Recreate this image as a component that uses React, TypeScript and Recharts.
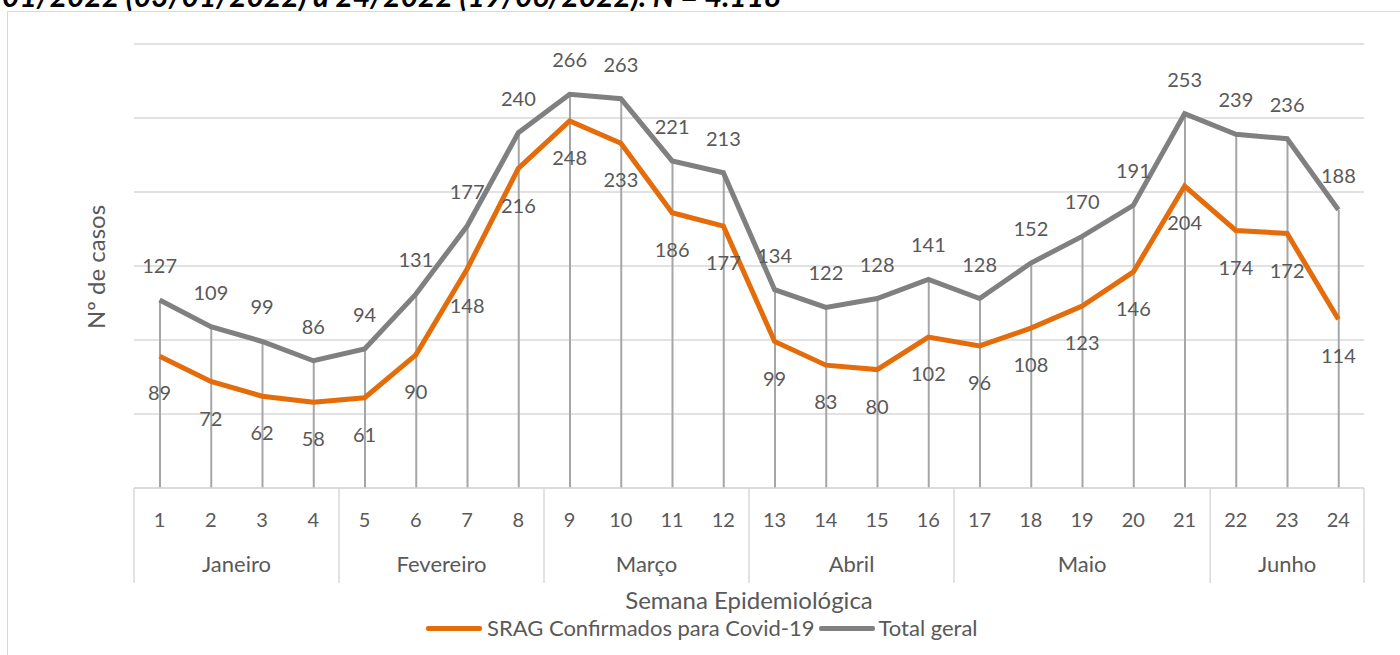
import React from 'react';
import { ComposedChart, Line, Bar, XAxis, YAxis, CartesianGrid, LabelList } from 'recharts';

const weeks = [1, 2, 3, 4, 5, 6, 7, 8, 9, 10, 11, 12, 13, 14, 15, 16, 17, 18, 19, 20, 21, 22, 23, 24];
const confirmados = [89, 72, 62, 58, 61, 90, 148, 216, 248, 233, 186, 177, 99, 83, 80, 102, 96, 108, 123, 146, 204, 174, 172, 114];
const totalGeral = [127, 109, 99, 86, 94, 131, 177, 240, 266, 263, 221, 213, 134, 122, 128, 141, 128, 152, 170, 191, 253, 239, 236, 188];
const months = ['Janeiro', 'Fevereiro', 'Março', 'Abril', 'Maio', 'Junho'];
const monthWeeks = [4, 4, 4, 4, 5, 3];
const yTicks = [0, 50, 100, 150, 200, 250, 300];

const FONT = 'Lato, "Open Sans", sans-serif';
const TEXT = '#595959';
const ORANGE = '#E46C0A';
const GRAY = '#808080';
const GRID = '#D9D9D9';

const data = weeks.map((w, i) => ({ week: w, confirmados: confirmados[i], total: totalGeral[i] }));

// first week of each month -> [month index, number of weeks]
const groupStart: Record<number, [number, number]> = {};
let acc = 0;
monthWeeks.forEach((n, m) => {
  groupStart[weeks[acc]] = [m, n];
  acc += n;
});
const lastWeek = weeks[weeks.length - 1];

const WeekTick = (props: any) => {
  const { x, y, payload } = props;
  const half = payload.offset || 25.6;
  const band = half * 2;
  const start = groupStart[payload.value];
  return (
    <g>
      <text x={x} y={y + 31} textAnchor="middle" dominantBaseline="central" fill={TEXT} fontSize={20} fontFamily={FONT}>
        {payload.value}
      </text>
      {start && (
        <>
          <line x1={x - half} x2={x - half} y1={y} y2={y + 95} stroke={GRID} strokeWidth={1.5} />
          <text
            x={x + ((start[1] - 1) / 2) * band}
            y={y + 75}
            textAnchor="middle"
            dominantBaseline="central"
            fill={TEXT}
            fontSize={22}
            fontFamily={FONT}
          >
            {months[start[0]]}
          </text>
        </>
      )}
      {payload.value === lastWeek && (
        <line x1={x + half} x2={x + half} y1={y} y2={y + 95} stroke={GRID} strokeWidth={1.5} />
      )}
    </g>
  );
};

const App = () => {
  return (
    <div style={{ position: 'absolute', left: 0, top: 0, width: 1400, height: 655, overflow: 'hidden', background: '#fff' }}>
      <div
        style={{
          position: 'absolute',
          left: 2,
          top: -20,
          fontFamily: FONT,
          fontWeight: 700,
          fontStyle: 'italic',
          fontSize: 30,
          lineHeight: '30px',
          whiteSpace: 'nowrap',
          color: '#000',
        }}
      >
        01/2022 (03/01/2022) a 24/2022 (19/06/2022). N = 4.118
      </div>
      <div style={{ position: 'absolute', left: 7, top: 11, width: 1420, height: 700, border: `1.5px solid ${GRID}` }} />
      <div style={{ position: 'absolute', left: 0, top: 0 }}>
        <ComposedChart width={1400} height={655} data={data} margin={{ top: 44, right: 36, bottom: 72, left: 134 }}>
          <CartesianGrid vertical={false} stroke={GRID} strokeWidth={1.5} />
          <XAxis
            dataKey="week"
            height={95}
            tickLine={false}
            tickSize={0}
            tickMargin={0}
            axisLine={{ stroke: GRID, strokeWidth: 1.5 }}
            tick={<WeekTick />}
            interval={0}
          />
          <YAxis hide domain={[0, 300]} ticks={yTicks} />
          <Bar dataKey="total" barSize={2} fill="#A6A6A6" isAnimationActive={false} />
          <Line type="linear" dataKey="confirmados" stroke={ORANGE} strokeWidth={5} dot={false} isAnimationActive={false}>
            <LabelList dataKey="confirmados" position="bottom" offset={30} fill={TEXT} fontSize={20} fontFamily={FONT} />
          </Line>
          <Line type="linear" dataKey="total" stroke={GRAY} strokeWidth={5} dot={false} isAnimationActive={false}>
            <LabelList dataKey="total" position="top" offset={27} fill={TEXT} fontSize={20} fontFamily={FONT} />
          </Line>
        </ComposedChart>
      </div>
      <div
        style={{
          position: 'absolute',
          left: 95,
          top: 267,
          transform: 'translate(-50%, -50%) rotate(-90deg)',
          fontFamily: FONT,
          fontSize: 24,
          color: TEXT,
          whiteSpace: 'nowrap',
        }}
      >
        Nº de casos
      </div>
      <div
        style={{
          position: 'absolute',
          left: 749,
          top: 600,
          transform: 'translate(-50%, -50%)',
          fontFamily: FONT,
          fontSize: 24,
          lineHeight: '22px',
          color: TEXT,
          whiteSpace: 'nowrap',
        }}
      >
        Semana Epidemiológica
      </div>
      <div
        style={{
          position: 'absolute',
          left: 426,
          top: 618,
          height: 20,
          display: 'flex',
          alignItems: 'center',
          fontFamily: FONT,
          fontSize: 22,
          lineHeight: '20px',
          color: TEXT,
          whiteSpace: 'nowrap',
        }}
      >
        <span style={{ display: 'inline-block', width: 56, height: 5, background: ORANGE, borderRadius: 2 }} />
        <span style={{ marginLeft: 5 }}>SRAG Confirmados para Covid-19</span>
        <span style={{ display: 'inline-block', width: 56, height: 5, background: GRAY, borderRadius: 2, marginLeft: 4 }} />
        <span style={{ marginLeft: 4 }}>Total geral</span>
      </div>
    </div>
  );
};

export default App;
